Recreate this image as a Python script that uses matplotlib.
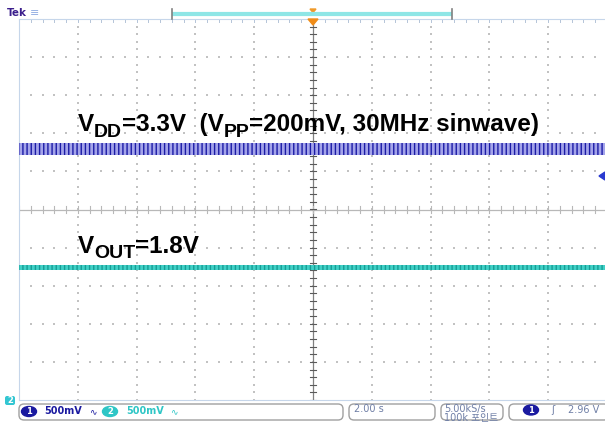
import matplotlib
matplotlib.use("Agg")
import matplotlib.pyplot as plt
import matplotlib.transforms as mtransforms
import numpy as np
from matplotlib.patches import FancyBboxPatch, Polygon, Ellipse

plt.rcParams['font.family'] = ['Liberation Sans', 'Noto Sans CJK KR', 'DejaVu Sans']
plt.rcParams['hatch.linewidth'] = 1.0

# screen values in divisions (10 x 10 graticule, 0 = centre)
trace_levels = [1.59, -1.52]        # CH1 (VDD), CH2 (VOUT)
trace_pp = [0.32, 0.15]             # visible band height
trace_edge = ["#1c1ca6", "#169d95"]
trace_face = ["#a4a4ea", "#40d0c6"]
# label pieces: (text, is_subscript)
label_vdd = [("V", False), ("DD", True), ("=3.3V  (V", False), ("PP", True),
             ("=200mV, 30MHz sinwave)", False)]
label_vout = [("V", False), ("OUT", True), ("=1.8V", False)]
label_baselines = [2.06, -1.14]
ch_scales = ["500mV", "500mV"]
timebase = "2.00 s"
sample_rate = "5.00kS/s"
record_len = "100k 포인트"
trig_level_text = "2.96 V"

W, H = 605, 424
fig = plt.figure(figsize=(W / 100, H / 100), dpi=100)
fig.patch.set_facecolor("white")

# graticule axes: x 19..607 px, y 19..400 px
ax = fig.add_axes([19 / W, 1 - 400 / H, 588 / W, 381 / H])
ax.set_xlim(-5, 5)
ax.set_ylim(-5, 5)
ax.set_xticks([])
ax.set_yticks([])
for s in ax.spines.values():
    s.set_color("#c6d6ea")
    s.set_linewidth(0.8)

minor = np.arange(-5, 5.01, 0.2)
grid_col = "#c2c2c2"
for g in range(-4, 5):
    if g == 0:
        continue
    ax.scatter(np.full(minor.size, g), minor, s=1.1, marker="s", lw=0,
               color=grid_col, zorder=1)
    ax.scatter(minor, np.full(minor.size, g), s=1.1, marker="s", lw=0,
               color=grid_col, zorder=1)

# centre cross with minor ticks
ax.axhline(0, color="#b8b8b8", lw=0.9, zorder=1)
ax.axvline(0, color="#808080", lw=0.9, zorder=1)
tx, ty = 0.05, 0.08
for m in minor:
    ax.plot([m, m], [-ty, ty], color="#b8b8b8", lw=0.8, zorder=1)
    ax.plot([-tx, tx], [m, m], color="#5a5a5a", lw=0.8, zorder=1)
    ax.plot([m, m], [5, 5 - ty], color="#b4c4d8", lw=0.7, zorder=1, clip_on=False)

# traces
for lvl, pp, ec, fc in zip(trace_levels, trace_pp, trace_edge, trace_face):
    ax.fill_between([-5, 5], lvl - pp / 2, lvl + pp / 2, facecolor=fc,
                    edgecolor=ec, hatch="||||", lw=0, zorder=3)

# annotations with large subscripts
renderer = fig.canvas.get_renderer()
for pieces, base in zip([label_vdd, label_vout], label_baselines):
    xoff = 0.0
    for s, sub in pieces:
        size = 14.0 if sub else 17.5
        yoff = -5.5 if sub else 0.0
        tr = mtransforms.offset_copy(ax.transData, fig=fig, x=xoff, y=yoff,
                                     units="dots")
        t = ax.text(-4.0, base, s, transform=tr, fontsize=size,
                    fontweight="bold", color="black", ha="left",
                    va="baseline", zorder=4)
        xoff += t.get_window_extent(renderer).width

# chrome overlay in pixel coordinates
ov = fig.add_axes([0, 0, 1, 1])
ov.set_xlim(0, W)
ov.set_ylim(H, 0)
ov.axis("off")
ov.patch.set_visible(False)

ov.text(7, 13, "Tek", fontsize=7.5, fontweight="bold", color="#3b1e8c",
        ha="left", va="center", family="DejaVu Sans")
ov.text(30, 13, "≡", fontsize=8, color="#94aee2", ha="left", va="center",
        family="DejaVu Sans")

# record bar + trigger position markers
ov.plot([172, 452], [14, 14], color="#8ee6e6", lw=3, solid_capstyle="butt")
for xb in (172, 452):
    ov.plot([xb, xb], [9, 19], color="#808080", lw=1.2)
ov.add_patch(Polygon([[310, 9], [316, 9], [313, 12.5]], color="#f09a2a"))
ov.add_patch(Polygon([[308, 19], [318, 19], [313, 25]], color="#f08c18"))

# CH1 trigger level arrow (right) and CH2 ground marker (left)
ov.add_patch(Polygon([[605, 172], [605, 180], [599, 176]], color="#2a3ad0"))
ov.add_patch(FancyBboxPatch((5, 396), 10, 9, boxstyle="round,pad=0,rounding_size=2",
                            fc="#33c6d2", ec="none"))
ov.text(10, 400.5, "2", fontsize=6, fontweight="bold", color="white",
        ha="center", va="center", family="DejaVu Sans")

# status bar boxes
box_ec = "#a0a0a0"
for x0, w in [(19, 324), (349, 86), (441, 62), (509, 100)]:
    ov.add_patch(FancyBboxPatch((x0, 404), w, 16,
                                boxstyle="round,pad=0,rounding_size=5",
                                fc="white", ec=box_ec, lw=1))

ch_col = ["#1a1aa0", "#2ec6c6"]
for (cx, tx0, sx), num, sc, col in zip([(29, 44, 93), (110, 126, 174)], ["1", "2"],
                                      ch_scales, ch_col):
    ov.add_patch(Ellipse((cx, 411.5), 15, 10, color=col))
    ov.text(cx, 411.7, num, fontsize=6, fontweight="bold", color="white",
            ha="center", va="center", family="DejaVu Sans")
    ov.text(tx0, 411.5, sc, fontsize=7, fontweight="bold", color=col,
            ha="left", va="center", family="DejaVu Sans")
    ov.text(sx, 411.5, "∿", fontsize=6.5, color=col, ha="center", va="center",
            family="DejaVu Sans")

info_col = "#6f7fa6"
ov.text(354, 409, timebase, fontsize=7, color=info_col, ha="left", va="center",
        family="DejaVu Sans")
ov.text(444, 409, sample_rate, fontsize=7, color=info_col, ha="left", va="center",
        family="DejaVu Sans")
ov.text(444, 418.5, record_len, fontsize=7, color=info_col, ha="left", va="center",
        family=["DejaVu Sans", "Noto Sans CJK KR"])
ov.add_patch(Ellipse((531, 410), 15, 10, color="#1a1aa0"))
ov.text(531, 410.2, "1", fontsize=6, fontweight="bold", color="white",
        ha="center", va="center", family="DejaVu Sans")
ov.text(553, 410, "ʃ", fontsize=7, color=info_col, ha="center", va="center",
        family="DejaVu Sans")
ov.text(568, 410, trig_level_text, fontsize=7, color=info_col, ha="left",
        va="center", family="DejaVu Sans")

plt.savefig("out.png", dpi=100)
plt.close()
